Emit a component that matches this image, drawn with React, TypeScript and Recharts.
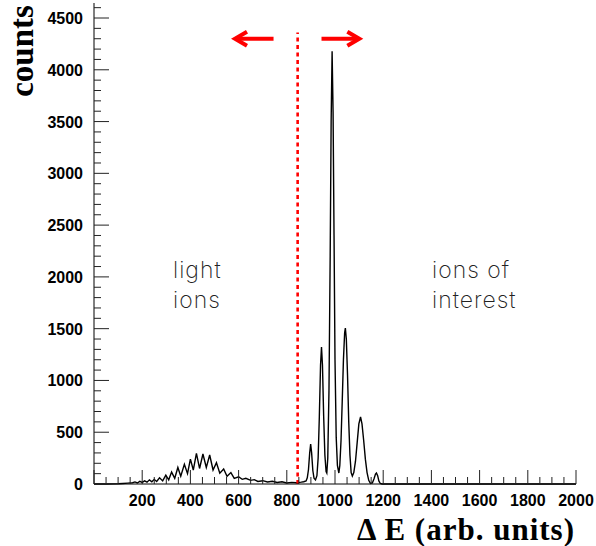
import React from "react";
import { LineChart, Line, XAxis, YAxis, ReferenceLine } from "recharts";

// energy loss bin centres (arb. units) and counts
const binCenters = [
  0, 50, 100, 120, 140, 160, 170, 180, 190, 200, 210, 220, 230, 240, 250, 260,
  272, 285, 298, 310, 322, 335, 348, 360, 375, 388, 400, 412, 425, 438, 452,
  466, 480, 494, 508, 522, 538, 552, 568, 582, 600, 615, 630, 650, 665, 680,
  700, 720, 740, 760, 780, 800, 820, 840, 860, 870, 880,
  885, 890, 895, 899, 903, 908, 913, 919,
  925, 930, 935, 940, 944, 948, 953, 958, 963, 966,
  970, 975, 980, 984, 988, 992, 996, 1000, 1005, 1010, 1016,
  1020, 1025, 1030, 1035, 1040, 1043, 1047, 1052, 1057, 1062, 1067, 1072,
  1078, 1085, 1092, 1099, 1106, 1112, 1119, 1126, 1133, 1140, 1147,
  1155, 1162, 1168, 1172, 1177, 1182, 1188, 1195, 1300, 2000,
];
const counts = [
  0, 0, 2, 5, 8, 12, 20, 10, 25, 15, 30, 18, 40, 22, 45, 25,
  60, 30, 85, 40, 115, 55, 160, 75, 190, 100, 240, 135, 295, 150, 290,
  160, 280, 135, 205, 105, 145, 75, 110, 55, 70, 45, 55, 35, 42, 25,
  32, 20, 26, 15, 22, 10, 16, 12, 18, 22, 30,
  60, 140, 300, 386, 300, 130, 55, 40,
  80, 250, 650, 1150, 1322, 1150, 650, 280, 120, 106,
  250, 900, 2200, 3500, 4180, 3600, 2400, 1200, 450, 180, 106,
  180, 420, 800, 1200, 1460, 1506, 1400, 1050, 600, 280, 110, 77,
  110, 220, 400, 580, 647, 580, 420, 240, 110, 35, 5,
  10, 50, 95, 106, 80, 30, 5, 0, 0, 0,
];

const xTicks = Array.from({ length: 41 }, (_, i) => i * 50);
const yTicks = Array.from({ length: 47 }, (_, i) => i * 100);

const cutX = 845;
const cutTop = 4360;
const arrowY = 4300;
const leftArrow = [745, 585];
const rightArrow = [944, 1101];

const data = binCenters.map((x, i) => ({ x, y: counts[i] }));

const tickFont = {
  fontFamily: "Liberation Sans, Arial, sans-serif",
  fontWeight: 700,
  fontSize: 16,
  fill: "#000",
};

const BottomTick = ({ x, y, payload }: any) => {
  const v = payload.value;
  const major = v % 200 === 0;
  return (
    <g>
      <line x1={x} x2={x} y1={y} y2={y - (major ? 14 : 7)} stroke="#222" />
      {major && v > 0 && (
        <text x={x} y={y + 22} textAnchor="middle" {...tickFont}>
          {v}
        </text>
      )}
    </g>
  );
};

const TopTick = ({ x, y, payload }: any) => {
  const major = payload.value % 200 === 0;
  return <line x1={x} x2={x} y1={y} y2={y + (major ? 14 : 7)} stroke="#222" />;
};

const LeftTick = ({ x, y, payload }: any) => {
  const v = payload.value;
  const major = v % 500 === 0;
  return (
    <g>
      <line x1={x} x2={x + (major ? 15 : 7)} y1={y} y2={y} stroke="#222" />
      {major && (
        <text x={x - 11} y={y + 6} textAnchor="end" {...tickFont}>
          {v}
        </text>
      )}
    </g>
  );
};

const RightTick = ({ x, y, payload }: any) => {
  const major = payload.value % 500 === 0;
  return <line x1={x} x2={x - (major ? 15 : 7)} y1={y} y2={y} stroke="#222" />;
};

const Arrow = (p: any) => {
  const { x1, y1, x2 } = p;
  const d = x2 > x1 ? 1 : -1;
  return (
    <g>
      <line x1={x1} y1={y1} x2={x2 - d * 3} y2={y1} stroke="#ff0000" strokeWidth={4} />
      <polyline
        points={`${x2 - d * 12},${y1 - 7} ${x2},${y1} ${x2 - d * 12},${y1 + 7}`}
        fill="none"
        stroke="#ff0000"
        strokeWidth={4}
      />
    </g>
  );
};

const noteStyle = {
  fontFamily: "Inter, Liberation Sans, sans-serif",
  fontWeight: 200,
  fontSize: 23,
  letterSpacing: 1,
  fill: "#222",
};

export default function App() {
  return (
    <div style={{ position: "absolute", left: 0, top: 0, width: 596, height: 546, background: "#fff" }}>
      <LineChart
        width={596}
        height={546}
        data={data}
        margin={{ top: 3, right: 20, bottom: 32, left: 0 }}
      >
        <XAxis
          dataKey="x"
          type="number"
          domain={[0, 2000]}
          ticks={xTicks}
          interval={0}
          tickLine={false}
          tickSize={0}
          tickMargin={0}
          height={30}
          axisLine={{ stroke: "#000" }}
          tick={<BottomTick />}
        />
        <XAxis
          xAxisId="top"
          orientation="top"
          type="number"
          domain={[0, 2000]}
          ticks={xTicks}
          interval={0}
          tickLine={false}
          tickSize={0}
          tickMargin={0}
          height={0}
          axisLine={{ stroke: "#000" }}
          tick={<TopTick />}
        />
        <YAxis
          type="number"
          domain={[0, 4645]}
          ticks={yTicks}
          interval={0}
          tickLine={false}
          tickSize={0}
          tickMargin={0}
          width={94}
          axisLine={{ stroke: "#000" }}
          tick={<LeftTick />}
        />
        <YAxis
          yAxisId="right"
          orientation="right"
          type="number"
          domain={[0, 4645]}
          ticks={yTicks}
          interval={0}
          tickLine={false}
          tickSize={0}
          tickMargin={0}
          width={0}
          axisLine={{ stroke: "#000" }}
          tick={<RightTick />}
        />
        <Line
          dataKey="y"
          type="linear"
          stroke="#000"
          strokeWidth={1.4}
          dot={false}
          isAnimationActive={false}
        />
        <ReferenceLine
          segment={[
            { x: cutX, y: 0 },
            { x: cutX, y: cutTop },
          ]}
          stroke="#ff0000"
          strokeWidth={2.6}
          strokeDasharray="4 3.5"
        />
        <ReferenceLine
          segment={[
            { x: leftArrow[0], y: arrowY },
            { x: leftArrow[1], y: arrowY },
          ]}
          shape={Arrow}
        />
        <ReferenceLine
          segment={[
            { x: rightArrow[0], y: arrowY },
            { x: rightArrow[1], y: arrowY },
          ]}
          shape={Arrow}
        />
      </LineChart>
      <svg
        width={596}
        height={546}
        style={{ position: "absolute", left: 0, top: 0, pointerEvents: "none" }}
      >
        <text
          transform="translate(33,51) rotate(-90)"
          textAnchor="middle"
          fontFamily="Liberation Serif, Times New Roman, serif"
          fontWeight={700}
          fontSize={33}
        >
          counts
        </text>
        <text
          x={575}
          y={540}
          textAnchor="end"
          fontFamily="Liberation Serif, Times New Roman, serif"
          fontWeight={700}
          fontSize={31}
          letterSpacing={1}
        >
          Δ E (arb. units)
        </text>
        <text x={173} y={278} {...noteStyle}>light</text>
        <text x={173} y={308} {...noteStyle}>ions</text>
        <text x={432} y={278} {...noteStyle}>ions of</text>
        <text x={432} y={308} {...noteStyle}>interest</text>
      </svg>
    </div>
  );
}
